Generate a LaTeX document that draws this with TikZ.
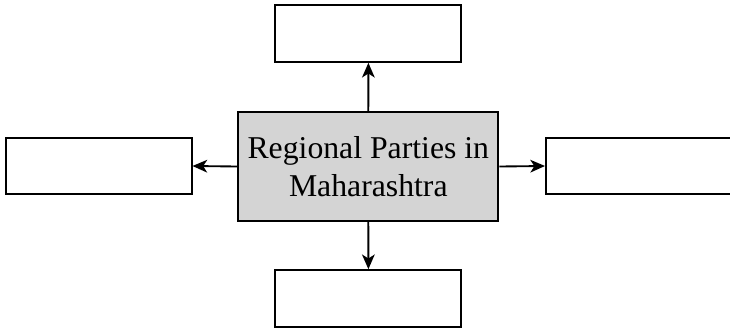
\documentclass[tikz,border=0pt]{standalone}
\usepackage{fontspec}
\setmainfont{Liberation Serif}
\usetikzlibrary{arrows.meta}
\begin{document}
\begin{tikzpicture}[x=0.75pt,y=-0.75pt,
  box/.style={draw=black, line width=1.5pt, fill=white, minimum width=139.5pt, minimum height=42.5pt, inner sep=0pt},
  mainbox/.style={draw=black, line width=1.5pt, fill=black!17, minimum width=195pt, minimum height=81.75pt, inner sep=0pt, align=center, font=\fontsize{23.8pt}{28.6pt}\selectfont},
  conn/.style={line width=1.4pt, -{Stealth[length=11pt, width=9.5pt, inset=3pt]}}]
\useasboundingbox (0,0) rectangle (730,329);
\node[mainbox] (c) at (368.3,166.5) {Regional Parties in\\Maharashtra};
\node[box] (t) at (368.4,33.5) {};
\node[box] (b) at (368.4,298.5) {};
\node[box] (l) at (98.5,166) {};
\node[box] (r) at (639,166) {};
\draw[conn] (c.north) -- (t.south);
\draw[conn] (c.south) -- (b.north);
\draw[conn] (c.west) -- (l.east);
\draw[conn] (c.east) -- (r.west);
\end{tikzpicture}
\end{document}
